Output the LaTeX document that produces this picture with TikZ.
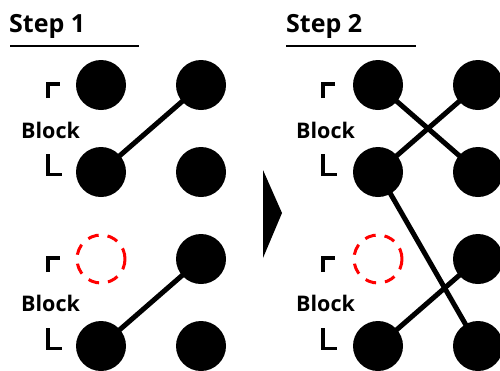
\documentclass[tikz,border=0pt]{standalone}
\usepackage{fontspec}
\setmainfont{Open Sans}
\begin{document}
\begin{tikzpicture}[x=1pt,y=-1pt,
  dot/.style={circle,fill=black,minimum size=50pt,inner sep=0pt},
  ghost/.style={circle,draw=red,line width=3pt,dash pattern=on 11pt off 9pt,minimum size=48pt,inner sep=0pt},
  link/.style={line width=5pt},
  steptitle/.style={anchor=base west,inner sep=0pt,font=\bfseries\fontsize{25}{30}\selectfont},
  blocklabel/.style={anchor=base west,inner sep=0pt,font=\bfseries\fontsize{21.5}{26}\selectfont},
  rule/.style={line width=2pt},
  bracket/.style={line width=3.5pt,line cap=butt,line join=miter}]
\useasboundingbox (0,0) rectangle (500,370);
\clip (0,0) rectangle (500,370);
% Step 1
\node[steptitle] (s1) at (9,32) {Step 1};
\draw[rule] (10,46) coordinate (u1a) -- (139,46) coordinate (u1b);
\node[blocklabel] (b1a) at (21,138) {Block};
\node[blocklabel] (b1b) at (21,311) {Block};
\foreach \dy in {0,174}{
  \draw[bracket] (47.75,98+\dy) -- (47.75,83.75+\dy) -- (60,83.75+\dy);
  \draw[bracket] (47.75,154+\dy) -- (47.75,174.25+\dy) -- (62,174.25+\dy);
}
\node[dot] (a11) at (101,85) {};
\node[dot] (a12) at (201,85) {};
\node[dot] (a21) at (101,172) {};
\node[dot] (a22) at (201,172) {};
\node[ghost] (a31) at (101,259) {};
\node[dot] (a32) at (201,259) {};
\node[dot] (a41) at (101,346) {};
\node[dot] (a42) at (201,346) {};
\draw[link] (a21.center) -- (a12.center);
\draw[link] (a41.center) -- (a32.center);
% arrow
\fill (263,170) coordinate (t1) -- (282,213) coordinate (t2) -- (263,258) coordinate (t3) -- cycle;
% Step 2
\node[steptitle] (s2) at (286,32) {Step 2};
\draw[rule] (286,46) coordinate (u2a) -- (416,46) coordinate (u2b);
\node[blocklabel] (b2a) at (296,138) {Block};
\node[blocklabel] (b2b) at (296,311) {Block};
\foreach \dy in {0,174}{
  \draw[bracket] (322.75,98+\dy) -- (322.75,83.75+\dy) -- (335,83.75+\dy);
  \draw[bracket] (322.75,154+\dy) -- (322.75,174.25+\dy) -- (337,174.25+\dy);
}
\node[dot] (c11) at (378,85) {};
\node[dot] (c12) at (478,85) {};
\node[dot] (c21) at (378,172) {};
\node[dot] (c22) at (478,172) {};
\node[ghost] (c31) at (378,259) {};
\node[dot] (c32) at (478,259) {};
\node[dot] (c41) at (378,346) {};
\node[dot] (c42) at (478,346) {};
\draw[link] (c11.center) -- (c22.center);
\draw[link] (c21.center) -- (c12.center);
\draw[link] (c21.center) -- (c42.center);
\draw[link] (c41.center) -- (c32.center);
\end{tikzpicture}
\end{document}
